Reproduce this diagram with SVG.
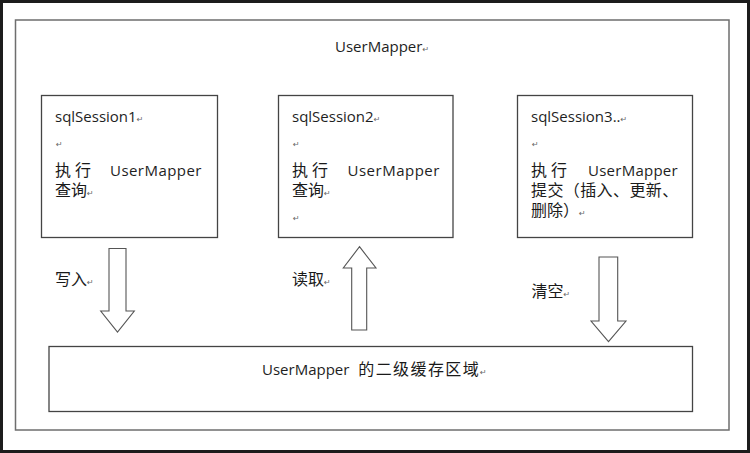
<svg xmlns="http://www.w3.org/2000/svg" width="750" height="453" viewBox="0 0 750 453">
  <style>
    .lat { font-family: "Open Sans", "Noto Sans CJK SC", sans-serif; font-size: 15px; fill: #1e1e1e; }
    .cjk { font-family: "Liberation Sans", "Noto Sans CJK SC", sans-serif; font-size: 16px; fill: #1a1a1a; }
    .ret { font-family: "DejaVu Sans", sans-serif; font-size: 8px; fill: #666; }
    .box { fill: #fff; stroke: #444; stroke-width: 1.3; }
    .arrow { fill: #fff; stroke: #555; stroke-width: 1.1; stroke-linejoin: miter; }
  </style>
  <rect x="0" y="0" width="750" height="453" fill="#1c1c1c"/>
  <rect x="3" y="3" width="744" height="447" fill="#fff"/>

  <g id="usermapper">
    <rect x="15.5" y="20" width="713.5" height="410" fill="none" stroke="#6e6e6e" stroke-width="1.5"/>
    <text class="lat" x="335" y="52">UserMapper<tspan class="ret">↵</tspan></text>
  </g>

  <g id="session1">
    <rect class="box" x="41.5" y="95.5" width="176" height="142"/>
    <text class="lat">
      <tspan x="55" y="122">sqlSession1</tspan><tspan class="ret">↵</tspan>
      <tspan class="ret" x="56" y="147">↵</tspan>
      <tspan class="cjk" x="55" y="176">执</tspan><tspan class="cjk" x="75" y="176">行</tspan><tspan x="110" y="176" letter-spacing="0.45">UserMapper</tspan>
      <tspan class="cjk" x="55" y="196">查询</tspan><tspan class="ret">↵</tspan>
    </text>
  </g>

  <g id="session2">
    <rect class="box" x="278.5" y="95.5" width="174.5" height="142"/>
    <text class="lat">
      <tspan x="292" y="122">sqlSession2</tspan><tspan class="ret">↵</tspan>
      <tspan class="ret" x="293" y="147">↵</tspan>
      <tspan class="cjk" x="292" y="176">执</tspan><tspan class="cjk" x="312" y="176">行</tspan><tspan x="347.5" y="176" letter-spacing="0.5">UserMapper</tspan>
      <tspan class="cjk" x="292" y="196">查询</tspan><tspan class="ret">↵</tspan>
      <tspan class="ret" x="293" y="221">↵</tspan>
    </text>
  </g>

  <g id="session3">
    <rect class="box" x="517.5" y="95.5" width="175" height="142"/>
    <text class="lat">
      <tspan x="531" y="122">sqlSession3..</tspan><tspan class="ret">↵</tspan>
      <tspan class="ret" x="532" y="147">↵</tspan>
      <tspan class="cjk" x="531" y="176">执</tspan><tspan class="cjk" x="551" y="176">行</tspan><tspan x="588" y="176" letter-spacing="0.25">UserMapper</tspan>
      <tspan class="cjk" x="531" y="196" letter-spacing="0.4">提交（插入、更新、</tspan>
      <tspan class="cjk" x="531" y="216">删除）</tspan><tspan class="ret">↵</tspan>
    </text>
  </g>

  <g id="cache">
    <rect class="box" x="49" y="346.5" width="643.5" height="65"/>
    <text class="lat" x="262" y="375">UserMapper <tspan class="cjk" x="358.3" letter-spacing="1.4">的二级缓存区域</tspan><tspan class="ret">↵</tspan></text>
  </g>

  <g id="connectors">
    <polygon class="arrow" points="109,248.5 126,248.5 126,311 134.3,311 117.5,332 100.7,311 109,311"/>
    <text class="cjk" x="55" y="285">写入<tspan class="ret">↵</tspan></text>
    <polygon class="arrow" points="359.5,246.7 376,268 366.7,268 366.7,330 351.7,330 351.7,268 343.3,268"/>
    <text class="cjk" x="292" y="285">读取<tspan class="ret">↵</tspan></text>
    <polygon class="arrow" points="599,257 617.7,257 617.7,321 626,321 608.5,341.7 591,321 599,321"/>
    <text class="cjk" x="531.5" y="297">清空<tspan class="ret">↵</tspan></text>
  </g>
</svg>
